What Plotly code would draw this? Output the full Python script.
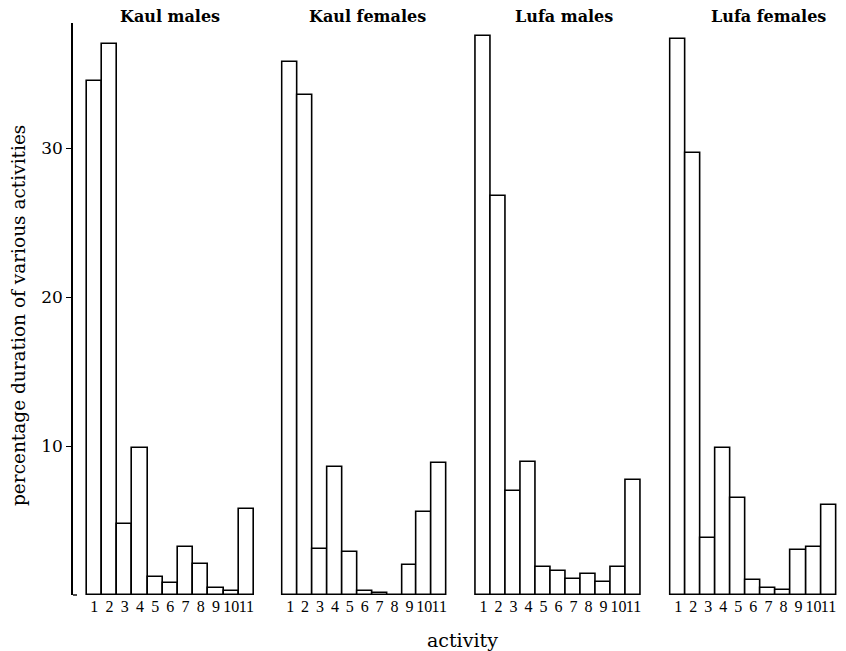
import plotly.graph_objects as go

# Activity codes shown under each panel
activities = list(range(1, 12))
tick_text = [str(a) for a in activities]

# Percentage duration of activities per group
kaul_males = [34.5, 37.0, 4.8, 9.9, 1.2, 0.8, 3.25, 2.05, 0.5, 0.3, 5.8]
kaul_females = [35.75, 33.6, 3.1, 8.6, 2.9, 0.3, 0.15, 0.0, 2.0, 5.55, 8.85]
lufa_males = [37.5, 26.8, 6.95, 8.95, 1.9, 1.6, 1.1, 1.4, 0.85, 1.9, 7.7]
lufa_females = [37.3, 29.7, 3.8, 9.9, 6.5, 1.0, 0.45, 0.35, 3.05, 3.2, 6.05]

groups = ["Kaul males", "Kaul females", "Lufa males", "Lufa females"]
series = [kaul_males, kaul_females, lufa_males, lufa_females]

y_ticks = [10, 20, 30]

W, H = 846, 651
FONT = "DejaVu Serif"
TICK_FONT = "Liberation Serif"

# Panel placement in pixels (first bar's left edge, last bar's right edge)
bars_px = [(86.7, 254), (282.7, 446.7), (476, 641), (670.7, 836)]
title_x = [170, 367, 564, 768]
pad = 0.15  # small margin in category units so outlines are not clipped

plot_top, plot_bottom = 23, 595
y_dom = [(H - plot_bottom) / H, (H - plot_top) / H]
y_max = 38.4
axis_px = 73

fig = go.Figure()
layout = dict(
    width=W, height=H,
    margin=dict(l=0, r=0, t=0, b=0),
    paper_bgcolor="white", plot_bgcolor="white",
    bargap=0, showlegend=False,
    font=dict(family=FONT, color="black", size=17),
)

for i, (name, vals) in enumerate(zip(groups, series)):
    n = i + 1
    xa = "x" if n == 1 else f"x{n}"
    ya = "y" if n == 1 else f"y{n}"
    fig.add_trace(go.Bar(
        x=activities, y=vals, xaxis=xa, yaxis=ya, width=1,
        marker=dict(color="white", line=dict(color="black", width=1.6)),
        hoverinfo="skip",
    ))
    l, r = bars_px[i]
    unit = (r - l) / 11
    lo = 0.5 - pad
    hi = 11.5 + pad
    if n == 1:
        lo = 0.5 - (l - axis_px) / unit
        left_px = axis_px
    else:
        left_px = l - pad * unit
    right_px = r + pad * unit
    layout["xaxis" if n == 1 else f"xaxis{n}"] = dict(
        domain=[left_px / W, right_px / W], range=[lo, hi],
        tickvals=activities, ticktext=tick_text, ticks="", tickangle=0,
        showgrid=False, zeroline=False, showline=False,
        tickfont=dict(family=TICK_FONT, size=16, color="black"),
        anchor=ya,
    )
    ycfg = dict(
        domain=y_dom, range=[0, y_max], showgrid=False, zeroline=False,
        anchor=xa,
    )
    if n == 1:
        ycfg.update(
            showline=True, linecolor="black", linewidth=1.6,
            ticks="outside", ticklen=5, tickwidth=1.2, tickcolor="black",
            tickvals=y_ticks, ticktext=[str(t) for t in y_ticks],
            tickfont=dict(family=FONT, size=17, color="black"),
        )
    else:
        ycfg.update(visible=False, matches="y")
    layout["yaxis" if n == 1 else f"yaxis{n}"] = ycfg

annotations = []
for name, cx in zip(groups, title_x):
    annotations.append(dict(
        text=f"<b>{name}</b>", x=cx / W, y=(H - 17) / H, xref="paper", yref="paper",
        showarrow=False, xanchor="center", yanchor="middle",
        font=dict(family=FONT, size=16, color="black"),
    ))
annotations.append(dict(
    text="activity", x=462 / W, y=(H - 640) / H, xref="paper", yref="paper",
    showarrow=False, xanchor="center", yanchor="middle",
    font=dict(family=FONT, size=19, color="black"),
))
annotations.append(dict(
    text="percentage duration of various activities", x=18 / W, y=(H - 316) / H,
    xref="paper", yref="paper", showarrow=False, textangle=-90,
    xanchor="center", yanchor="middle",
    font=dict(family=FONT, size=18.5, color="black"),
))
layout["annotations"] = annotations

# small foot at the bottom of the vertical axis
layout["shapes"] = [dict(
    type="line", xref="paper", yref="paper",
    x0=axis_px / W, x1=(axis_px + 4) / W, y0=y_dom[0], y1=y_dom[0],
    line=dict(color="black", width=1.4),
)]

fig.update_layout(**layout)
fig.write_html("out.html")
